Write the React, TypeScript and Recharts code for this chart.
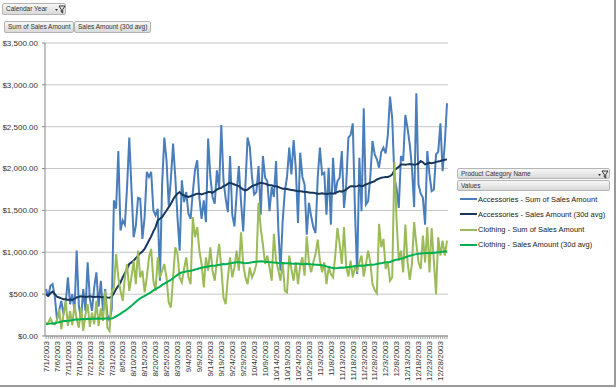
import { LineChart, Line, XAxis, YAxis, CartesianGrid } from "recharts";

// 7/1/2003 .. 12/31/2003, one row per day
const months: [number, number][] = [[7, 31], [8, 31], [9, 30], [10, 31], [11, 30], [12, 31]];
const dates: string[] = months.flatMap(([m, n]) =>
  Array.from({ length: n }, (_, d) => `${m}/${d + 1}/2003`)
);

const accSum = [
  560, 470, 600, 620, 480, 200, 300, 420, 260, 400, 700, 380, 500, 300, 1020, 360, 200, 560, 300, 880, 450, 300, 580, 760, 350, 660, 300, 560, 250, 180, 320,
  1620, 1520, 2210, 1260, 1380, 1330, 1780, 2370, 1760, 1180, 1320, 1650, 1640, 1160, 1420, 1960, 1900, 1960, 1500, 1440, 1520, 660, 1820, 2370, 2100, 1560, 1880, 2300, 1900, 1420, 1020,
  1860, 1600, 1720, 1460, 1400, 1720, 1980, 2100, 1650, 1400, 1620, 1360, 2360, 1900, 1660, 1580, 1980, 1760, 2520, 1860, 1640, 1480, 2150, 1450, 1310, 1700, 2030, 1600, 1250, 1800,
  2370, 2260, 1900, 1690, 1720, 2030, 1450, 2150, 1890, 1850, 1490, 1780, 1660, 2090, 1300, 780, 1370, 1730, 1900, 2250, 1930, 2340, 2000, 1350, 2190, 1900, 1810, 1210, 1590, 1430, 1300,
  1230, 1890, 2250, 1930, 1950, 1450, 2010, 1330, 2130, 1690, 1850, 1890, 2210, 1530, 1800, 2370, 2400, 2540, 1500, 740, 2130, 1490, 2720, 1570, 1610, 1900, 2330, 2170, 2110, 2010,
  2200, 2250, 2180, 2400, 2860, 2600, 1890, 1760, 1530, 2150, 2090, 2640, 2480, 2290, 2010, 1540, 2900, 1810, 1700, 1650, 1330, 2210, 1930, 1730, 1750, 2170, 2200, 2540, 1970, 2300, 2780,
];

const accAvg = [
  500, 480, 510, 530, 500, 470, 460, 450, 440, 440, 430, 435, 430, 445, 460, 470, 475, 470, 465, 470, 475, 470, 465, 468, 470, 465, 462, 465, 460, 458, 470,
  510, 560, 600, 640, 700, 750, 800, 860, 880, 900, 930, 960, 990, 1010, 1040, 1090, 1140, 1190, 1250, 1300, 1380, 1400, 1420, 1460, 1500, 1540, 1580, 1630, 1670, 1700, 1720,
  1690, 1680, 1670, 1660, 1670, 1680, 1690, 1700, 1700, 1690, 1700, 1710, 1720, 1720, 1710, 1730, 1750, 1760, 1770, 1790, 1800, 1820, 1830, 1820, 1810, 1800, 1790, 1770, 1750, 1740,
  1750, 1770, 1790, 1800, 1810, 1820, 1830, 1825, 1820, 1810, 1800, 1800, 1790, 1790, 1780, 1770, 1760, 1760, 1755, 1750, 1745, 1740, 1735, 1730, 1730, 1725, 1720, 1720, 1715, 1710, 1710,
  1705, 1700, 1700, 1705, 1700, 1695, 1700, 1705, 1700, 1710, 1720, 1730, 1725, 1735, 1750, 1770, 1790, 1790, 1785, 1790, 1800, 1790, 1795, 1810, 1820, 1830, 1840, 1850, 1870, 1880,
  1890, 1895, 1900, 1900, 1910, 1930, 1980, 2000, 2020, 2050, 2050, 2045, 2050, 2055, 2050, 2045, 2050, 2060, 2090, 2075, 2050, 2060, 2070, 2065, 2070, 2080, 2085, 2090, 2100, 2105, 2110,
];

const cloSum = [
  150, 160, 210, 150, 140, 190, 320, 80, 260, 420, 120, 300, 130, 380, 200, 100, 340, 60, 260, 380, 110, 280, 140, 420, 120, 330, 180, 540, 100, 60, 520,
  580, 980, 700, 540, 420, 700, 860, 540, 700, 900, 620, 1020, 700, 780, 520, 700, 940, 1040, 660, 540, 940, 700, 780, 860, 700, 400, 340, 700, 1060, 980, 700,
  640, 800, 940, 700, 620, 1420, 1180, 1300, 1020, 860, 580, 940, 780, 1060, 780, 660, 900, 1100, 820, 460, 380, 700, 940, 700, 820, 1020, 780, 1240, 860, 700,
  620, 820, 700, 760, 860, 1590, 1290, 1090, 860, 960, 820, 660, 1220, 900, 790, 660, 880, 540, 520, 960, 800, 660, 880, 620, 840, 940, 720, 1190, 880, 760, 880,
  980, 1150, 900, 760, 880, 620, 820, 740, 700, 960, 1290, 1100, 860, 1300, 830, 710, 900, 700, 820, 780, 880, 960, 710, 860, 1020, 880, 620, 550, 510, 1340,
  1060, 1160, 800, 880, 660, 700, 2080, 1380, 900, 1020, 760, 1330, 880, 670, 860, 1360, 1100, 880, 800, 1200, 880, 1300, 760, 1290, 900, 500, 1180, 960, 1140, 960, 1140,
];

const cloAvg = [
  140, 145, 150, 148, 150, 160, 165, 170, 180, 178, 182, 185, 190, 195, 200, 198, 200, 202, 200, 205, 203, 205, 207, 205, 208, 206, 205, 208, 210, 207, 210,
  220, 235, 250, 265, 285, 300, 320, 340, 360, 385, 410, 430, 450, 465, 480, 495, 510, 525, 545, 560, 575, 590, 610, 625, 640, 655, 670, 690, 710, 730, 750,
  760, 765, 770, 775, 780, 785, 795, 800, 810, 815, 820, 825, 830, 835, 840, 838, 845, 850, 855, 860, 858, 862, 868, 872, 878, 880, 882, 878, 872, 870,
  872, 875, 880, 885, 888, 890, 892, 890, 888, 885, 882, 880, 878, 875, 872, 870, 872, 870, 868, 870, 866, 864, 862, 865, 860, 858, 860, 862, 858, 856, 855,
  852, 850, 848, 845, 840, 832, 825, 818, 812, 810, 812, 815, 818, 815, 820, 825, 828, 830, 835, 838, 840, 842, 840, 845, 848, 850, 852, 855, 860, 865,
  870, 875, 880, 882, 885, 895, 905, 912, 918, 922, 930, 940, 950, 958, 965, 972, 978, 982, 985, 988, 990, 992, 990, 995, 993, 998, 1000, 1002, 1005, 1008, 1010,
];

const yTicks = [0, 500, 1000, 1500, 2000, 2500, 3000, 3500];

const series = [
  { key: "accSum", name: "Accessories - Sum of Sales Amount", color: "#4a7ebb", width: 2 },
  { key: "accAvg", name: "Accessories - Sales Amount (30d avg)", color: "#17375e", width: 2 },
  { key: "cloSum", name: "Clothing - Sum of Sales Amount", color: "#9bbb59", width: 2 },
  { key: "cloAvg", name: "Clothing - Sales Amount (30d avg)", color: "#00b050", width: 2 },
];

const data = dates.map((date, i) => ({
  date,
  accSum: accSum[i],
  accAvg: accAvg[i],
  cloSum: cloSum[i],
  cloAvg: cloAvg[i],
}));

const dateIndex: Record<string, number> = {};
dates.forEach((d, i) => (dateIndex[d] = i));

const FONT = "'Liberation Sans', Arial, sans-serif";

const money = (v: number) =>
  "$" + v.toLocaleString("en-US", { minimumFractionDigits: 2, maximumFractionDigits: 2 });

function DateTick(props: any) {
  const { x, y, payload } = props;
  if (dateIndex[payload.value] % 5 !== 0) return <g />;
  return (
    <text
      x={x}
      y={y}
      dy="0.35em"
      transform={`rotate(-90, ${x}, ${y})`}
      textAnchor="end"
      fontSize={8}
      fill="#333"
      fontFamily={FONT}
    >
      {payload.value}
    </text>
  );
}

function Funnel({ left, top }: { left: number; top: number }) {
  return (
    <svg width={12} height={9} style={{ position: "absolute", left, top }}>
      <path d="M1 4 L4 4 L2.5 6 Z" fill="#333" />
      <path d="M5 1 L11 1 L8.7 4.5 L8.7 8 L7.3 7 L7.3 4.5 Z" fill="none" stroke="#333" strokeWidth={1} />
    </svg>
  );
}

const btn: React.CSSProperties = {
  position: "absolute",
  boxSizing: "border-box",
  background: "linear-gradient(#f7f7f7, #d9d9d9)",
  border: "1px solid #b4b4b4",
  borderRadius: 2,
  fontSize: 6.5,
  color: "#333",
  lineHeight: "9px",
  paddingLeft: 3,
  whiteSpace: "nowrap",
  fontFamily: FONT,
};

export default function App() {
  return (
    <div style={{ position: "fixed", left: 0, top: 0, width: 616, height: 389, background: "#fff" }}>
      <LineChart
        width={616}
        height={389}
        data={data}
        margin={{ top: 43, right: 168, bottom: 7, left: 0 }}
      >
        <CartesianGrid vertical={false} stroke="#c4c4c4" />
        <XAxis
          dataKey="date"
          interval={0}
          tick={DateTick}
          tickSize={3}
          tickMargin={2}
          height={46}
          padding={{ left: 1, right: 1 }}
          axisLine={{ stroke: "#868686" }}
          tickLine={{ stroke: "#a0a0a0" }}
        />
        <YAxis
          width={45}
          domain={[0, 3500]}
          ticks={yTicks}
          tickFormatter={money}
          tickSize={3}
          tickMargin={4}
          axisLine={{ stroke: "#868686" }}
          tickLine={{ stroke: "#868686" }}
          tick={{ fontSize: 8, fill: "#333", fontFamily: FONT }}
        />
        {series.map((s) => (
          <Line
            key={s.key}
            type="linear"
            dataKey={s.key}
            name={s.name}
            stroke={s.color}
            strokeWidth={s.width}
            dot={false}
            isAnimationActive={false}
          />
        ))}
      </LineChart>

      <div style={{ ...btn, left: 2, top: 3, width: 64, height: 12 }}>
        Calendar Year
        <Funnel left={51} top={1} />
      </div>
      <div style={{ ...btn, left: 4, top: 21, width: 70, height: 12 }}>Sum of Sales Amount</div>
      <div style={{ ...btn, left: 74, top: 21, width: 77, height: 12 }}>Sales Amount (30d avg)</div>

      <div style={{ ...btn, left: 457, top: 168, width: 153, height: 11 }}>
        Product Category Name
        <Funnel left={139} top={1} />
      </div>
      <div style={{ ...btn, left: 457, top: 180, width: 153, height: 11 }}>Values</div>

      {series.map((s, i) => (
        <div
          key={s.key}
          style={{
            position: "absolute",
            left: 460,
            top: 194 + i * 15.3,
            height: 10,
            display: "flex",
            alignItems: "center",
            fontSize: 7.5,
            color: "#222",
            fontFamily: FONT,
            whiteSpace: "nowrap",
          }}
        >
          <span style={{ display: "inline-block", width: 17, height: 2, background: s.color, marginRight: 1 }} />
          {s.name}
        </div>
      ))}

      <div
        style={{
          position: "absolute",
          left: 0,
          top: 0,
          width: 614,
          height: 385,
          borderRight: "2px solid #9a9a9a",
          borderBottom: "2px solid #9a9a9a",
          pointerEvents: "none",
        }}
      />
    </div>
  );
}
